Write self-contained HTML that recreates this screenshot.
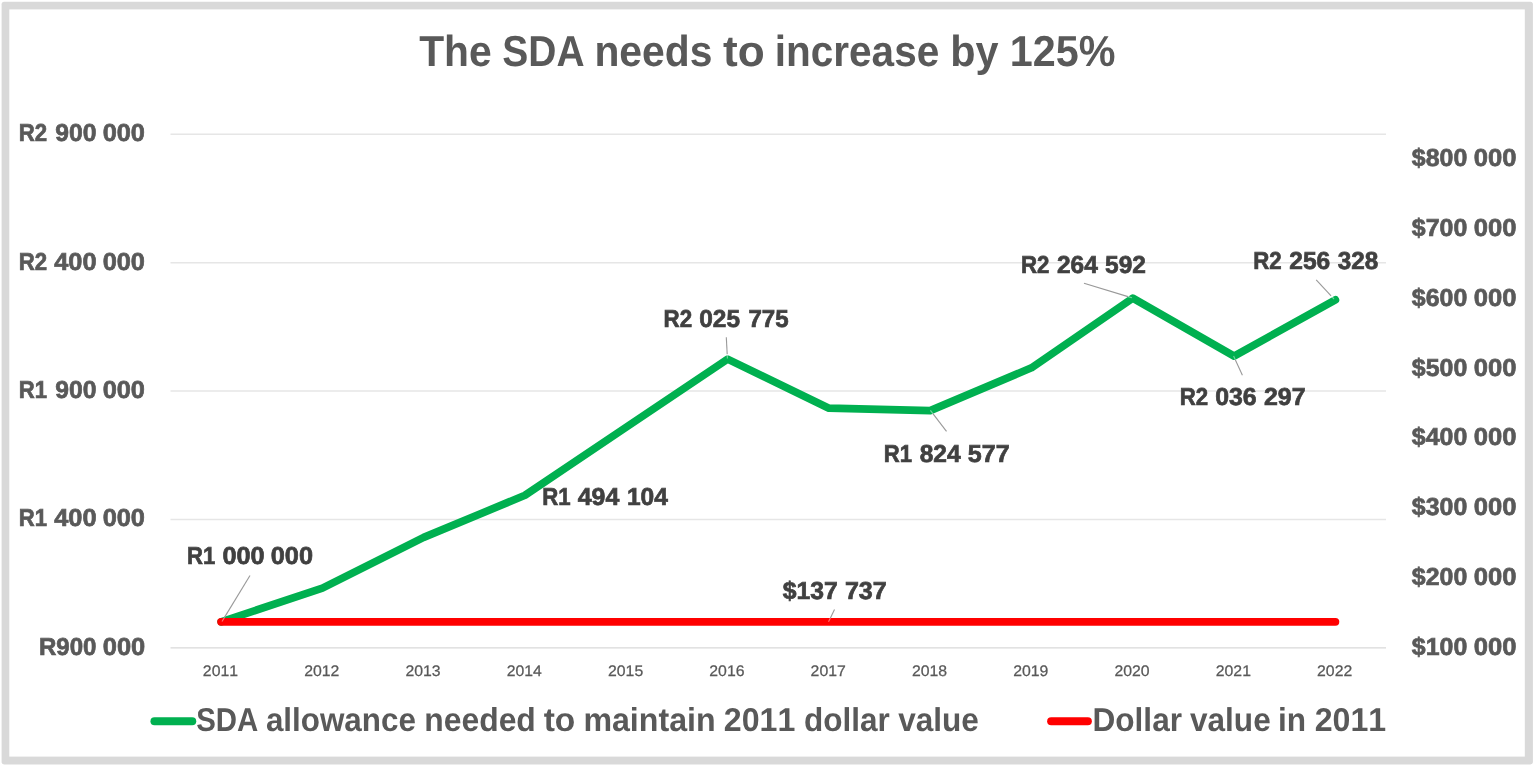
<!DOCTYPE html>
<html lang="en">
<head>
<meta charset="utf-8">
<title>The SDA needs to increase by 125%</title>
<style>
html,body{margin:0;padding:0;background:#fff;}
body{width:1536px;height:767px;overflow:hidden;}
svg{display:block;}
svg text{font-family:"Liberation Sans", sans-serif;font-kerning:none;text-rendering:geometricPrecision;}
.title{font-size:43.4px;font-weight:bold;fill:#595959;}
.ax{font-size:24.5px;font-weight:bold;fill:#595959;stroke:#595959;stroke-width:0.7px;}
.yr{font-size:15.3px;font-weight:normal;fill:#595959;stroke:#595959;stroke-width:0.25px;}
.dl{font-size:24.5px;font-weight:bold;fill:#404040;stroke:#404040;stroke-width:0.7px;}
.lg{font-size:33.0px;font-weight:bold;fill:#595959;}
</style>
</head>
<body>
<svg width="1536" height="767" viewBox="0 0 1536 767">
<rect x="0" y="0" width="1536" height="767" fill="#ffffff"/>
<rect x="1.6" y="1.7" width="1531.3" height="762.7" rx="2.5" ry="2.5" fill="#d9d9d9"/>
<rect x="9.3" y="9.4" width="1515.5" height="747.2" fill="#ffffff"/>
<line x1="170.5" y1="134.30" x2="1386.0" y2="134.30" stroke="#e6e6e6" stroke-width="1.5"/>
<line x1="170.5" y1="262.70" x2="1386.0" y2="262.70" stroke="#e6e6e6" stroke-width="1.5"/>
<line x1="170.5" y1="391.10" x2="1386.0" y2="391.10" stroke="#e6e6e6" stroke-width="1.5"/>
<line x1="170.5" y1="519.50" x2="1386.0" y2="519.50" stroke="#e6e6e6" stroke-width="1.5"/>
<line x1="170.5" y1="647.90" x2="1386.0" y2="647.90" stroke="#d9d9d9" stroke-width="1.4"/>
<polyline points="221.1,621.8 322.4,588.1 423.7,537.4 525.0,495.3 626.3,427.1 727.6,359.1 828.9,408.2 930.2,410.6 1031.5,367.8 1132.8,298.1 1234.1,356.1 1335.4,299.8" fill="none" stroke="#00b050" stroke-width="7.7" stroke-linecap="round" stroke-linejoin="round"/>
<line x1="221.1" y1="621.8" x2="1335.4" y2="621.8" stroke="#ff0000" stroke-width="7.8" stroke-linecap="round"/>
<line x1="250.0" y1="575.5" x2="224.2" y2="617.9" stroke="#999999" stroke-width="1.1"/>
<line x1="224.2" y1="617.9" x2="222.0" y2="621.5" stroke="#ffffff" stroke-opacity="0.45" stroke-width="1.1"/>
<line x1="726.3" y1="337.2" x2="727.2" y2="354.3" stroke="#999999" stroke-width="1.1"/>
<line x1="727.2" y1="354.3" x2="727.4" y2="358.5" stroke="#ffffff" stroke-opacity="0.45" stroke-width="1.1"/>
<line x1="946.5" y1="431.4" x2="932.9" y2="413.6" stroke="#999999" stroke-width="1.1"/>
<line x1="932.9" y1="413.6" x2="930.4" y2="410.3" stroke="#ffffff" stroke-opacity="0.45" stroke-width="1.1"/>
<line x1="1084.0" y1="283.3" x2="1128.0" y2="296.6" stroke="#999999" stroke-width="1.1"/>
<line x1="1128.0" y1="296.6" x2="1132.0" y2="297.8" stroke="#ffffff" stroke-opacity="0.45" stroke-width="1.1"/>
<line x1="1242.4" y1="375.2" x2="1235.3" y2="359.8" stroke="#999999" stroke-width="1.1"/>
<line x1="1235.3" y1="359.8" x2="1233.6" y2="356.0" stroke="#ffffff" stroke-opacity="0.45" stroke-width="1.1"/>
<line x1="1316.2" y1="279.9" x2="1331.1" y2="295.9" stroke="#999999" stroke-width="1.1"/>
<line x1="1331.1" y1="295.9" x2="1334.0" y2="299.0" stroke="#ffffff" stroke-opacity="0.45" stroke-width="1.1"/>
<line x1="834.5" y1="609.5" x2="830.4" y2="617.9" stroke="#999999" stroke-width="1.1"/>
<line x1="830.4" y1="617.9" x2="828.5" y2="621.7" stroke="#ffffff" stroke-opacity="0.45" stroke-width="1.1"/>
<line x1="154.5" y1="721.3" x2="192.2" y2="721.3" stroke="#00b050" stroke-width="8.1" stroke-linecap="round"/>
<line x1="1051.2" y1="721.3" x2="1087.8" y2="721.3" stroke="#ff0000" stroke-width="8.1" stroke-linecap="round"/>
<text class="title" y="66.0"><tspan x="419.18" textLength="72.48" lengthAdjust="spacingAndGlyphs">The</tspan> <tspan x="502.32" textLength="82.21" lengthAdjust="spacingAndGlyphs">SDA</tspan> <tspan x="594.44" textLength="117.92" lengthAdjust="spacingAndGlyphs">needs</tspan> <tspan x="722.94" textLength="41.69" lengthAdjust="spacingAndGlyphs">to</tspan> <tspan x="774.72" textLength="164.49" lengthAdjust="spacingAndGlyphs">increase</tspan> <tspan x="950.17" textLength="48.31" lengthAdjust="spacingAndGlyphs">by</tspan> <tspan x="1009.76" textLength="105.62" lengthAdjust="spacingAndGlyphs">125%</tspan></text>
<text class="ax" y="141.4"><tspan x="18.81" textLength="28.43" lengthAdjust="spacingAndGlyphs">R2</tspan> <tspan x="55.36" textLength="41.20" lengthAdjust="spacingAndGlyphs">900</tspan> <tspan x="102.71" textLength="42.25" lengthAdjust="spacingAndGlyphs">000</tspan></text>
<text class="ax" y="269.8"><tspan x="18.81" textLength="28.43" lengthAdjust="spacingAndGlyphs">R2</tspan> <tspan x="54.26" textLength="42.33" lengthAdjust="spacingAndGlyphs">400</tspan> <tspan x="102.71" textLength="42.25" lengthAdjust="spacingAndGlyphs">000</tspan></text>
<text class="ax" y="398.1"><tspan x="18.82" textLength="28.30" lengthAdjust="spacingAndGlyphs">R1</tspan> <tspan x="55.36" textLength="41.20" lengthAdjust="spacingAndGlyphs">900</tspan> <tspan x="102.71" textLength="42.25" lengthAdjust="spacingAndGlyphs">000</tspan></text>
<text class="ax" y="526.4"><tspan x="18.82" textLength="28.30" lengthAdjust="spacingAndGlyphs">R1</tspan> <tspan x="54.26" textLength="42.33" lengthAdjust="spacingAndGlyphs">400</tspan> <tspan x="102.71" textLength="42.25" lengthAdjust="spacingAndGlyphs">000</tspan></text>
<text class="ax" y="654.8"><tspan x="38.93" textLength="57.44" lengthAdjust="spacingAndGlyphs">R900</tspan> <tspan x="102.85" textLength="42.41" lengthAdjust="spacingAndGlyphs">000</tspan></text>
<text class="ax" y="166.1"><tspan x="1411.86" textLength="55.39" lengthAdjust="spacingAndGlyphs">$800</tspan> <tspan x="1473.81" textLength="42.66" lengthAdjust="spacingAndGlyphs">000</tspan></text>
<text class="ax" y="235.9"><tspan x="1411.86" textLength="55.39" lengthAdjust="spacingAndGlyphs">$700</tspan> <tspan x="1473.81" textLength="42.66" lengthAdjust="spacingAndGlyphs">000</tspan></text>
<text class="ax" y="305.8"><tspan x="1411.86" textLength="55.39" lengthAdjust="spacingAndGlyphs">$600</tspan> <tspan x="1473.81" textLength="42.66" lengthAdjust="spacingAndGlyphs">000</tspan></text>
<text class="ax" y="375.6"><tspan x="1411.86" textLength="55.39" lengthAdjust="spacingAndGlyphs">$500</tspan> <tspan x="1473.81" textLength="42.66" lengthAdjust="spacingAndGlyphs">000</tspan></text>
<text class="ax" y="445.4"><tspan x="1411.86" textLength="55.39" lengthAdjust="spacingAndGlyphs">$400</tspan> <tspan x="1473.81" textLength="42.66" lengthAdjust="spacingAndGlyphs">000</tspan></text>
<text class="ax" y="515.2"><tspan x="1411.86" textLength="55.39" lengthAdjust="spacingAndGlyphs">$300</tspan> <tspan x="1473.81" textLength="42.66" lengthAdjust="spacingAndGlyphs">000</tspan></text>
<text class="ax" y="585.1"><tspan x="1411.86" textLength="55.39" lengthAdjust="spacingAndGlyphs">$200</tspan> <tspan x="1473.81" textLength="42.66" lengthAdjust="spacingAndGlyphs">000</tspan></text>
<text class="ax" y="654.9"><tspan x="1411.86" textLength="55.39" lengthAdjust="spacingAndGlyphs">$100</tspan> <tspan x="1473.81" textLength="42.66" lengthAdjust="spacingAndGlyphs">000</tspan></text>
<text class="yr" y="676.1"><tspan x="202.86" textLength="35.19" lengthAdjust="spacingAndGlyphs">2011</tspan></text>
<text class="yr" y="676.1"><tspan x="304.15" textLength="35.20" lengthAdjust="spacingAndGlyphs">2012</tspan></text>
<text class="yr" y="676.1"><tspan x="405.44" textLength="35.21" lengthAdjust="spacingAndGlyphs">2013</tspan></text>
<text class="yr" y="676.1"><tspan x="506.74" textLength="35.11" lengthAdjust="spacingAndGlyphs">2014</tspan></text>
<text class="yr" y="676.1"><tspan x="608.03" textLength="35.17" lengthAdjust="spacingAndGlyphs">2015</tspan></text>
<text class="yr" y="676.1"><tspan x="709.32" textLength="35.18" lengthAdjust="spacingAndGlyphs">2016</tspan></text>
<text class="yr" y="676.1"><tspan x="810.61" textLength="35.23" lengthAdjust="spacingAndGlyphs">2017</tspan></text>
<text class="yr" y="676.1"><tspan x="911.90" textLength="35.18" lengthAdjust="spacingAndGlyphs">2018</tspan></text>
<text class="yr" y="676.1"><tspan x="1013.19" textLength="35.20" lengthAdjust="spacingAndGlyphs">2019</tspan></text>
<text class="yr" y="676.1"><tspan x="1114.49" textLength="35.15" lengthAdjust="spacingAndGlyphs">2020</tspan></text>
<text class="yr" y="676.1"><tspan x="1215.78" textLength="35.19" lengthAdjust="spacingAndGlyphs">2021</tspan></text>
<text class="yr" y="676.1"><tspan x="1317.07" textLength="35.20" lengthAdjust="spacingAndGlyphs">2022</tspan></text>
<text class="dl" y="564.0"><tspan x="187.02" textLength="28.26" lengthAdjust="spacingAndGlyphs">R1</tspan> <tspan x="222.48" textLength="42.18" lengthAdjust="spacingAndGlyphs">000</tspan> <tspan x="270.77" textLength="42.18" lengthAdjust="spacingAndGlyphs">000</tspan></text>
<text class="dl" y="504.6"><tspan x="542.21" textLength="28.39" lengthAdjust="spacingAndGlyphs">R1</tspan> <tspan x="577.76" textLength="41.55" lengthAdjust="spacingAndGlyphs">494</tspan> <tspan x="626.88" textLength="40.94" lengthAdjust="spacingAndGlyphs">104</tspan></text>
<text class="dl" y="326.6"><tspan x="663.61" textLength="28.56" lengthAdjust="spacingAndGlyphs">R2</tspan> <tspan x="699.30" textLength="40.72" lengthAdjust="spacingAndGlyphs">025</tspan> <tspan x="748.40" textLength="40.20" lengthAdjust="spacingAndGlyphs">775</tspan></text>
<text class="dl" y="461.6"><tspan x="883.82" textLength="28.27" lengthAdjust="spacingAndGlyphs">R1</tspan> <tspan x="919.68" textLength="40.93" lengthAdjust="spacingAndGlyphs">824</tspan> <tspan x="967.85" textLength="41.80" lengthAdjust="spacingAndGlyphs">577</tspan></text>
<text class="dl" y="273.3"><tspan x="1020.91" textLength="28.44" lengthAdjust="spacingAndGlyphs">R2</tspan> <tspan x="1056.92" textLength="40.87" lengthAdjust="spacingAndGlyphs">264</tspan> <tspan x="1105.05" textLength="40.92" lengthAdjust="spacingAndGlyphs">592</tspan></text>
<text class="dl" y="405.1"><tspan x="1179.71" textLength="28.41" lengthAdjust="spacingAndGlyphs">R2</tspan> <tspan x="1215.21" textLength="41.45" lengthAdjust="spacingAndGlyphs">036</tspan> <tspan x="1264.00" textLength="41.55" lengthAdjust="spacingAndGlyphs">297</tspan></text>
<text class="dl" y="269.3"><tspan x="1253.21" textLength="28.45" lengthAdjust="spacingAndGlyphs">R2</tspan> <tspan x="1289.24" textLength="41.03" lengthAdjust="spacingAndGlyphs">256</tspan> <tspan x="1337.83" textLength="40.53" lengthAdjust="spacingAndGlyphs">328</tspan></text>
<text class="dl" y="598.9"><tspan x="782.66" textLength="55.04" lengthAdjust="spacingAndGlyphs">$137</tspan> <tspan x="844.92" textLength="41.83" lengthAdjust="spacingAndGlyphs">737</tspan></text>
<text class="lg" y="730.8"><tspan x="196.24" textLength="62.07" lengthAdjust="spacingAndGlyphs">SDA</tspan> <tspan x="265.88" textLength="150.03" lengthAdjust="spacingAndGlyphs">allowance</tspan> <tspan x="424.33" textLength="111.49" lengthAdjust="spacingAndGlyphs">needed</tspan> <tspan x="543.72" textLength="31.60" lengthAdjust="spacingAndGlyphs">to</tspan> <tspan x="583.38" textLength="132.23" lengthAdjust="spacingAndGlyphs">maintain</tspan> <tspan x="723.87" textLength="71.51" lengthAdjust="spacingAndGlyphs">2011</tspan> <tspan x="804.06" textLength="85.83" lengthAdjust="spacingAndGlyphs">dollar</tspan> <tspan x="898.28" textLength="80.65" lengthAdjust="spacingAndGlyphs">value</tspan></text>
<text class="lg" y="730.8"><tspan x="1092.50" textLength="89.48" lengthAdjust="spacingAndGlyphs">Dollar</tspan> <tspan x="1190.03" textLength="80.66" lengthAdjust="spacingAndGlyphs">value</tspan> <tspan x="1278.03" textLength="28.10" lengthAdjust="spacingAndGlyphs">in</tspan> <tspan x="1314.66" textLength="71.52" lengthAdjust="spacingAndGlyphs">2011</tspan></text>
</svg>
</body>
</html>
